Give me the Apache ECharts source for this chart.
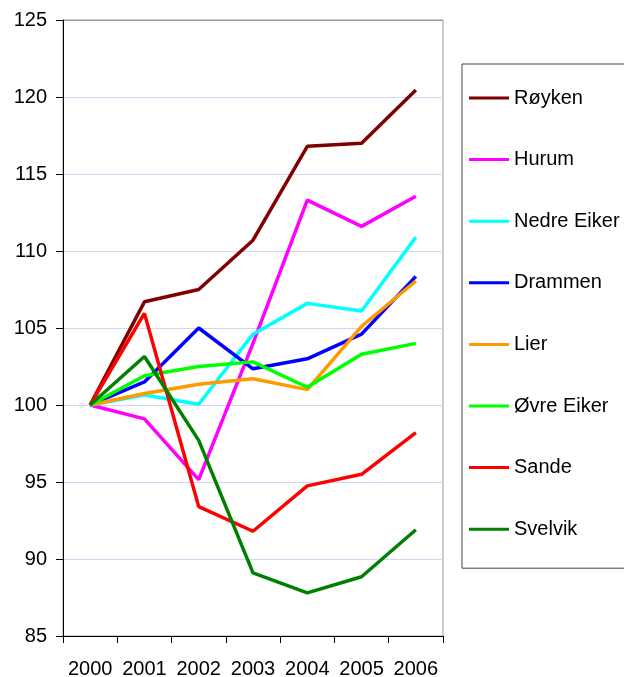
<!DOCTYPE html>
<html>
<head>
<meta charset="utf-8">
<script src="https://cdn.jsdelivr.net/npm/echarts@6/dist/echarts.min.js"></script>
<style>
  html, body { margin: 0; padding: 0; background: #fff; }
  #chart { width: 624px; height: 677px; }
</style>
</head>
<body>
<div id="chart"></div>
<script>
// years on the x axis
const years = ['2000', '2001', '2002', '2003', '2004', '2005', '2006'];

// index values per kommune (2000 = 100)
const royken     = [100, 106.7, 107.5, 110.7, 116.8, 117.0, 120.45];
const hurum      = [100, 99.1, 95.15, 104.0, 113.3, 111.6, 113.55];
const nedreEiker = [100, 100.65, 100.05, 104.6, 106.6, 106.1, 110.9];
const drammen    = [100, 101.5, 105.0, 102.35, 103.0, 104.6, 108.35];
const lier       = [100, 100.75, 101.35, 101.7, 101.0, 105.1, 108.05];
const ovreEiker  = [100, 101.9, 102.5, 102.8, 101.15, 103.3, 104.0];
const sande      = [100, 105.95, 93.4, 91.8, 94.75, 95.5, 98.2];
const svelvik    = [100, 103.15, 97.7, 89.1, 87.8, 88.85, 91.9];

const names  = ['Røyken', 'Hurum', 'Nedre Eiker', 'Drammen', 'Lier', 'Øvre Eiker', 'Sande', 'Svelvik'];
const values = [royken, hurum, nedreEiker, drammen, lier, ovreEiker, sande, svelvik];
const colors = ['#800000', '#ff00ff', '#00ffff', '#0000ff', '#ff9900', '#00ff00', '#ff0000', '#008000'];

const font = 'Arial, "Liberation Sans", sans-serif';

// gridline colours 85..125, the top one matches the plot border
const gridColors = ['#d4d4f6', '#d4d4f6', '#d4d4f6', '#d4d4f6', '#d4d4f6',
                    '#d4d4f6', '#d4d4f6', '#d4d4f6', '#999999'];

const chart = echarts.init(document.getElementById('chart'));

const option = {
  animation: false,
  backgroundColor: '#fff',
  textStyle: { fontFamily: font, color: '#000' },
  grid: {
    left: 63, top: 20, right: 181, bottom: 41,
    outerBoundsMode: 'none',
    containLabel: false,
    show: true,
    borderColor: '#999999',
    borderWidth: 1
  },
  legend: {
    orient: 'vertical',
    left: 462,
    top: 64,
    padding: [24, 12, 29, 7],
    borderColor: '#444',
    borderWidth: 1,
    icon: 'rect',
    itemWidth: 40,
    itemHeight: 3,
    itemGap: 41.6,
    textStyle: { fontSize: 20, lineHeight: 20, color: '#000', fontFamily: font },
    data: names
  },
  xAxis: {
    type: 'category',
    data: years,
    boundaryGap: true,
    axisLine: { lineStyle: { color: '#000', width: 1 } },
    axisTick: { show: true, interval: 0, length: 7, lineStyle: { color: '#000' } },
    axisLabel: { fontSize: 20, lineHeight: 20, color: '#000', margin: 23, interval: 0 },
    splitLine: { show: false }
  },
  yAxis: {
    type: 'value',
    min: 85,
    max: 125,
    interval: 5,
    axisLine: { show: true, lineStyle: { color: '#000', width: 1 } },
    axisTick: { show: true, length: 7, lineStyle: { color: '#000' } },
    axisLabel: { fontSize: 20, color: '#000', margin: 16 },
    splitLine: { show: true, lineStyle: { color: gridColors, width: 1 } }
  },
  series: names.map((n, i) => ({
    name: n,
    type: 'line',
    data: values[i],
    symbol: 'none',
    color: colors[i],
    lineStyle: { width: 3.5, color: colors[i] },
    itemStyle: { color: colors[i] }
  }))
};

chart.setOption(option);
</script>
</body>
</html>
